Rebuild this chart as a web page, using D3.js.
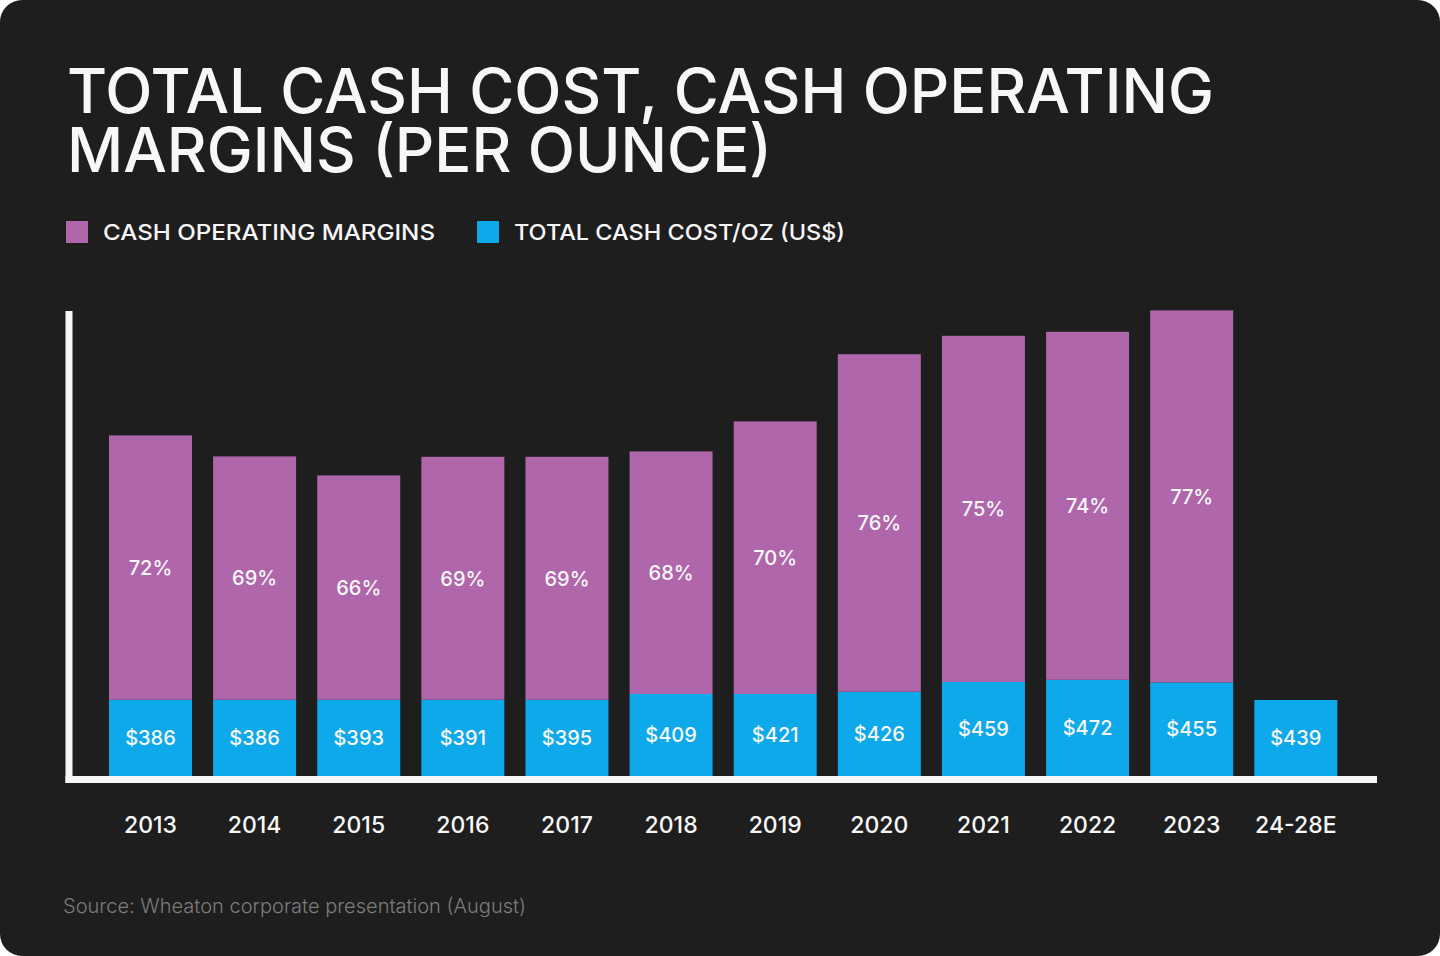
<!DOCTYPE html>
<html><head><meta charset="utf-8">
<script src="https://cdn.jsdelivr.net/npm/d3@7"></script>
<style>html,body{margin:0;padding:0;background:#ffffff;} svg{display:block;}</style>
</head><body><svg id="chart" width="1440" height="956"></svg>
<script>
// ---- data ----
const categories = ["2013","2014","2015","2016","2017","2018","2019","2020","2021","2022","2023","24-28E"];
const cashCostLabels = [386,386,393,391,395,409,421,426,459,472,455,439];
const marginPctLabels = [72,69,66,69,69,68,70,76,75,74,77,null];
// drawn segment sizes (chart units, as drawn in the picture)
const costSegment = [381,381,381,381,381,410,410,421,470,481,468,380];
const marginSegment = [1322,1217,1122,1215,1215,1213,1363,1688,1731,1740,1860,0];
const titleLines = ["TOTAL CASH COST, CASH OPERATING","MARGINS (PER OUNCE)"];
const legendItems = ["CASH OPERATING MARGINS","TOTAL CASH COST/OZ (US$)"];
const sourceText = "Source: Wheaton corporate presentation (August)";

const COLORS = {bg:"#1e1e1e", margin:"#b066ab", cost:"#0da9ea", text:"#f7f7f7", source:"#7c7c7c"};
const FONT = "Inter, 'Noto Sans', sans-serif";

const svg = d3.select("#chart");
svg.append("rect").attr("x",0).attr("y",0).attr("width",1440).attr("height",956)
  .attr("rx",22).attr("fill",COLORS.bg);

// title (one text, two lines)
const titleBase = [113,172], titleLen = [1147,705];
const title = svg.append("text").attr("font-family",FONT).attr("font-weight",500)
  .attr("fill",COLORS.text).attr("font-size",62);
titleLines.forEach((t,i)=>{
  title.append("tspan").attr("x",67).attr("y",titleBase[i])
    .attr("textLength",titleLen[i]).attr("lengthAdjust","spacingAndGlyphs").text(t);
});

// legend
const legendColor = [COLORS.margin, COLORS.cost];
const legendX = [66,477], legendTextLen=[332,331];
legendItems.forEach((t,i)=>{
  svg.append("rect").attr("x",legendX[i]).attr("y",221).attr("width",22).attr("height",22).attr("fill",legendColor[i]);
  svg.append("text").attr("x",legendX[i]+37).attr("y",240).attr("font-family",FONT).attr("font-weight",500)
    .attr("font-size",22).attr("fill",COLORS.text)
    .attr("textLength",legendTextLen[i]).attr("lengthAdjust","spacingAndGlyphs").text(t);
});

// scales
const x = d3.scaleBand().domain(categories).range([109,1337.3]).paddingInner(0.203).paddingOuter(0);
const y = d3.scaleLinear().domain([0,2500]).range([776,276]);

const rows = categories.map((c,i)=>({cat:c, cost:costSegment[i], margin:marginSegment[i], costLabel:cashCostLabels[i], pct:marginPctLabels[i]}));
const stack = d3.stack().keys(["cost","margin"]);
const series = stack(rows);
const segColor = {cost:COLORS.cost, margin:COLORS.margin};

const barsG = svg.append("g");
series.forEach(s=>{
  barsG.append("g").attr("fill",segColor[s.key]).selectAll("rect")
    .data(s.filter(d=>d[1]-d[0]>0)).join("rect")
    .attr("x",d=>x(d.data.cat)).attr("width",x.bandwidth())
    .attr("y",d=>y(d[1])).attr("height",d=>y(d[0])-y(d[1]));
});

// labels inside segments
const labG = svg.append("g").attr("font-family",FONT).attr("font-weight",500).attr("font-size",20)
  .attr("fill",COLORS.text).attr("text-anchor","middle");
series[0].forEach(d=>{
  labG.append("text").attr("x",x(d.data.cat)+x.bandwidth()/2).attr("y",(y(d[0])+y(d[1]))/2)
    .attr("dy","0.36em").text("$"+d.data.costLabel);
});
series[1].forEach(d=>{
  if(d.data.pct==null) return;
  labG.append("text").attr("x",x(d.data.cat)+x.bandwidth()/2).attr("y",(y(d[0])+y(d[1]))/2)
    .attr("dy","0.36em").text(d.data.pct+"%");
});

// axes lines
svg.append("rect").attr("x",65.5).attr("y",311).attr("width",7).attr("height",472).attr("fill",COLORS.text);
svg.append("rect").attr("x",65.5).attr("y",776).attr("width",1377-65.5).attr("height",7).attr("fill",COLORS.text);

// x axis labels
const xAxis = svg.append("g").attr("transform","translate(0,776)")
  .call(d3.axisBottom(x).tickSize(0).tickPadding(0));
xAxis.select(".domain").remove();
xAxis.selectAll("text").attr("y",49).attr("dy","0.36em").attr("font-family",FONT).attr("font-weight",500)
  .attr("font-size",23).attr("fill",COLORS.text);

// source
svg.append("text").attr("x",63).attr("y",913).attr("font-family",FONT).attr("font-weight",300)
  .attr("font-size",20.2).attr("fill",COLORS.source)
  .attr("textLength",463).attr("lengthAdjust","spacingAndGlyphs").text(sourceText);
</script>
</body></html>
